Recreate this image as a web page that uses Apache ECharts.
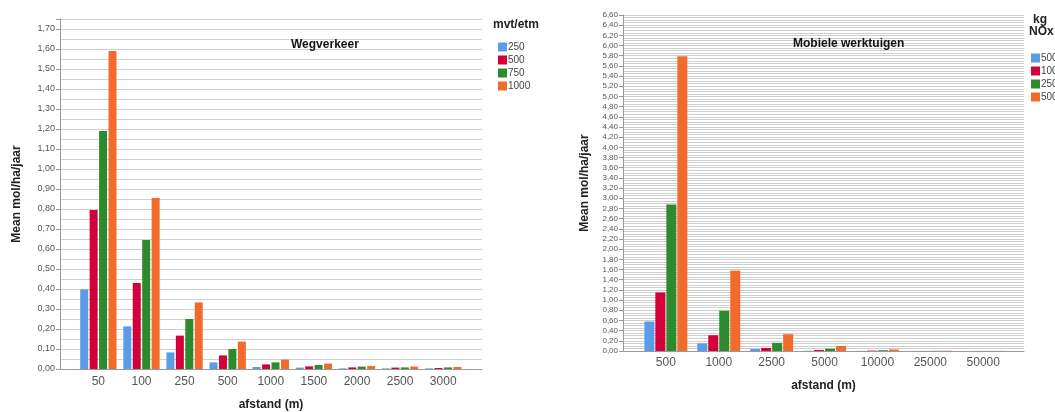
<!DOCTYPE html>
<html>
<head>
<meta charset="utf-8">
<script src="https://cdn.jsdelivr.net/npm/echarts@6/dist/echarts.min.js"></script>
<style>
  html, body { margin: 0; padding: 0; background: #fff; }
  #chart { width: 1055px; height: 412px; }
</style>
</head>
<body>
<div id="chart"></div>
<script>
// Wegverkeer (links)
const afstandW = ['50', '100', '250', '500', '1000', '1500', '2000', '2500', '3000'];
const weg250 = [0.398, 0.213, 0.083, 0.033, 0.010, 0.007, 0.003, 0.003, 0.003];
const weg500 = [0.795, 0.430, 0.167, 0.068, 0.023, 0.013, 0.008, 0.007, 0.005];
const weg750 = [1.190, 0.645, 0.250, 0.100, 0.033, 0.020, 0.012, 0.008, 0.008];
const weg1000 = [1.590, 0.855, 0.333, 0.137, 0.047, 0.027, 0.015, 0.012, 0.010];

// Mobiele werktuigen (rechts)
const afstandM = ['500', '1000', '2500', '5000', '10000', '25000', '50000'];
const mob500 = [0.58, 0.15, 0.04, 0.005, 0.003, 0.001, 0.0005];
const mob1000 = [1.15, 0.31, 0.06, 0.02, 0.008, 0.002, 0.001];
const mob2500 = [2.88, 0.79, 0.16, 0.045, 0.015, 0.004, 0.002];
const mob5000 = [5.79, 1.58, 0.33, 0.10, 0.03, 0.006, 0.003];

const colors = ['#5b9ce6', '#d4003a', '#2d8a2d', '#f26b2b'];
const font = 'Liberation Sans, Arial, sans-serif';

const pairs = (arr) => arr.map((v, i) => [i, v]);

function barSeries(name, data, colorIdx, idx, width, gap) {
  return {
    name,
    type: 'bar',
    xAxisIndex: idx,
    yAxisIndex: idx,
    barWidth: width,
    barGap: gap,
    itemStyle: { color: colors[colorIdx] },
    data: pairs(data),
  };
}

const xAxisBase = (cats, min, max, nameGap, margin) => ({
  type: 'value',
  min,
  max,
  name: 'afstand (m)',
  nameLocation: 'middle',
  nameGap,
  nameTextStyle: { fontWeight: 'bold', fontSize: 12, color: '#222', fontFamily: font },
  axisLine: { show: true, onZero: true, lineStyle: { color: '#999' } },
  axisTick: { show: false },
  splitLine: { show: false },
  axisLabel: {
    customValues: cats.map((c, i) => i),
    formatter: (v) => cats[Math.round(v)] || '',
    fontSize: 12,
    color: '#555',
    margin,
    fontFamily: font,
  },
});

// step in honderdsten: alleen labels op veelvouden daarvan
const yAxisBase = (max, interval, minorCount, nameGap, labelSize, step) => ({
  type: 'value',
  min: 0,
  max,
  interval,
  name: 'Mean mol/ha/jaar',
  nameLocation: 'middle',
  nameGap,
  nameTextStyle: { fontWeight: 'bold', fontSize: 12, color: '#222', fontFamily: font },
  axisLine: { show: true, onZero: false, lineStyle: { color: '#999' } },
  axisTick: { show: true, length: 4, lineStyle: { color: '#999' } },
  axisLabel: {
    formatter: (v) => (Math.round(v * 100) % step === 0 ? v.toFixed(2).replace('.', ',') : ''),
    fontSize: labelSize,
    color: '#555',
    margin: 5,
    fontFamily: font,
  },
  splitLine: { show: true, lineStyle: { color: '#cfcfcf' } },
  minorTick: { show: false, splitNumber: minorCount },
  minorSplitLine: { show: true, lineStyle: { color: '#cfcfcf' } },
});

const myChart = echarts.init(document.getElementById('chart'));
const option = {
  animation: false,
  backgroundColor: '#fff',
  title: [
    { text: 'Wegverkeer', left: 286, top: 34, textStyle: { fontSize: 12, fontWeight: 'bold', color: '#111', fontFamily: font } },
    { text: 'Mobiele werktuigen', left: 788, top: 33, textStyle: { fontSize: 12, fontWeight: 'bold', color: '#111', fontFamily: font } },
  ],
  graphic: [
    { type: 'text', left: 493, top: 19, style: { text: 'mvt/etm', font: 'bold 12px ' + font, fill: '#222' } },
    { type: 'text', left: 1033, top: 14, style: { text: 'kg', font: 'bold 12px ' + font, fill: '#222' } },
    { type: 'text', left: 1029, top: 26, style: { text: 'NOx', font: 'bold 12px ' + font, fill: '#222' } },
  ],
  legend: [
    {
      data: ['w250', 'w500', 'w750', 'w1000'],
      orient: 'vertical',
      left: 493,
      top: 37,
      itemWidth: 9,
      itemHeight: 9,
      itemGap: 3,
      icon: 'rect',
      formatter: (n) => n.slice(1),
      textStyle: { fontSize: 10, color: '#444', padding: [0, 0, 0, -4], fontFamily: font },
    },
    {
      data: ['m500', 'm1000', 'm2500', 'm5000'],
      orient: 'vertical',
      left: 1026,
      top: 48,
      itemWidth: 9,
      itemHeight: 9,
      itemGap: 3,
      icon: 'rect',
      formatter: (n) => n.slice(1),
      textStyle: { fontSize: 10, color: '#444', padding: [0, 0, 0, -4], fontFamily: font },
    },
  ],
  grid: [
    { left: 60, right: 573, top: 19, bottom: 43, outerBoundsMode: 'none' },
    { left: 623, right: 31, top: 15, bottom: 61, outerBoundsMode: 'none' },
  ],
  xAxis: [
    Object.assign(xAxisBase(afstandW, -0.89, 8.9, 30, 7), { gridIndex: 0 }),
    Object.assign(xAxisBase(afstandM, -0.81, 6.77, 29, 6), { gridIndex: 1 }),
  ],
  yAxis: [
    Object.assign(yAxisBase(1.75, 0.1, 2, 37, 9, 10), { gridIndex: 0 }),
    Object.assign(yAxisBase(6.6, 0.2, 4, 32, 8, 20), { gridIndex: 1 }),
  ],
  series: [
    barSeries('w250', weg250, 0, 0, 8, '18%'),
    barSeries('w500', weg500, 1, 0, 8, '18%'),
    barSeries('w750', weg750, 2, 0, 8, '18%'),
    barSeries('w1000', weg1000, 3, 0, 8, '18%'),
    barSeries('m500', mob500, 0, 1, 10, '10%'),
    barSeries('m1000', mob1000, 1, 1, 10, '10%'),
    barSeries('m2500', mob2500, 2, 1, 10, '10%'),
    barSeries('m5000', mob5000, 3, 1, 10, '10%'),
  ],
};
myChart.setOption(option);
</script>
</body>
</html>
